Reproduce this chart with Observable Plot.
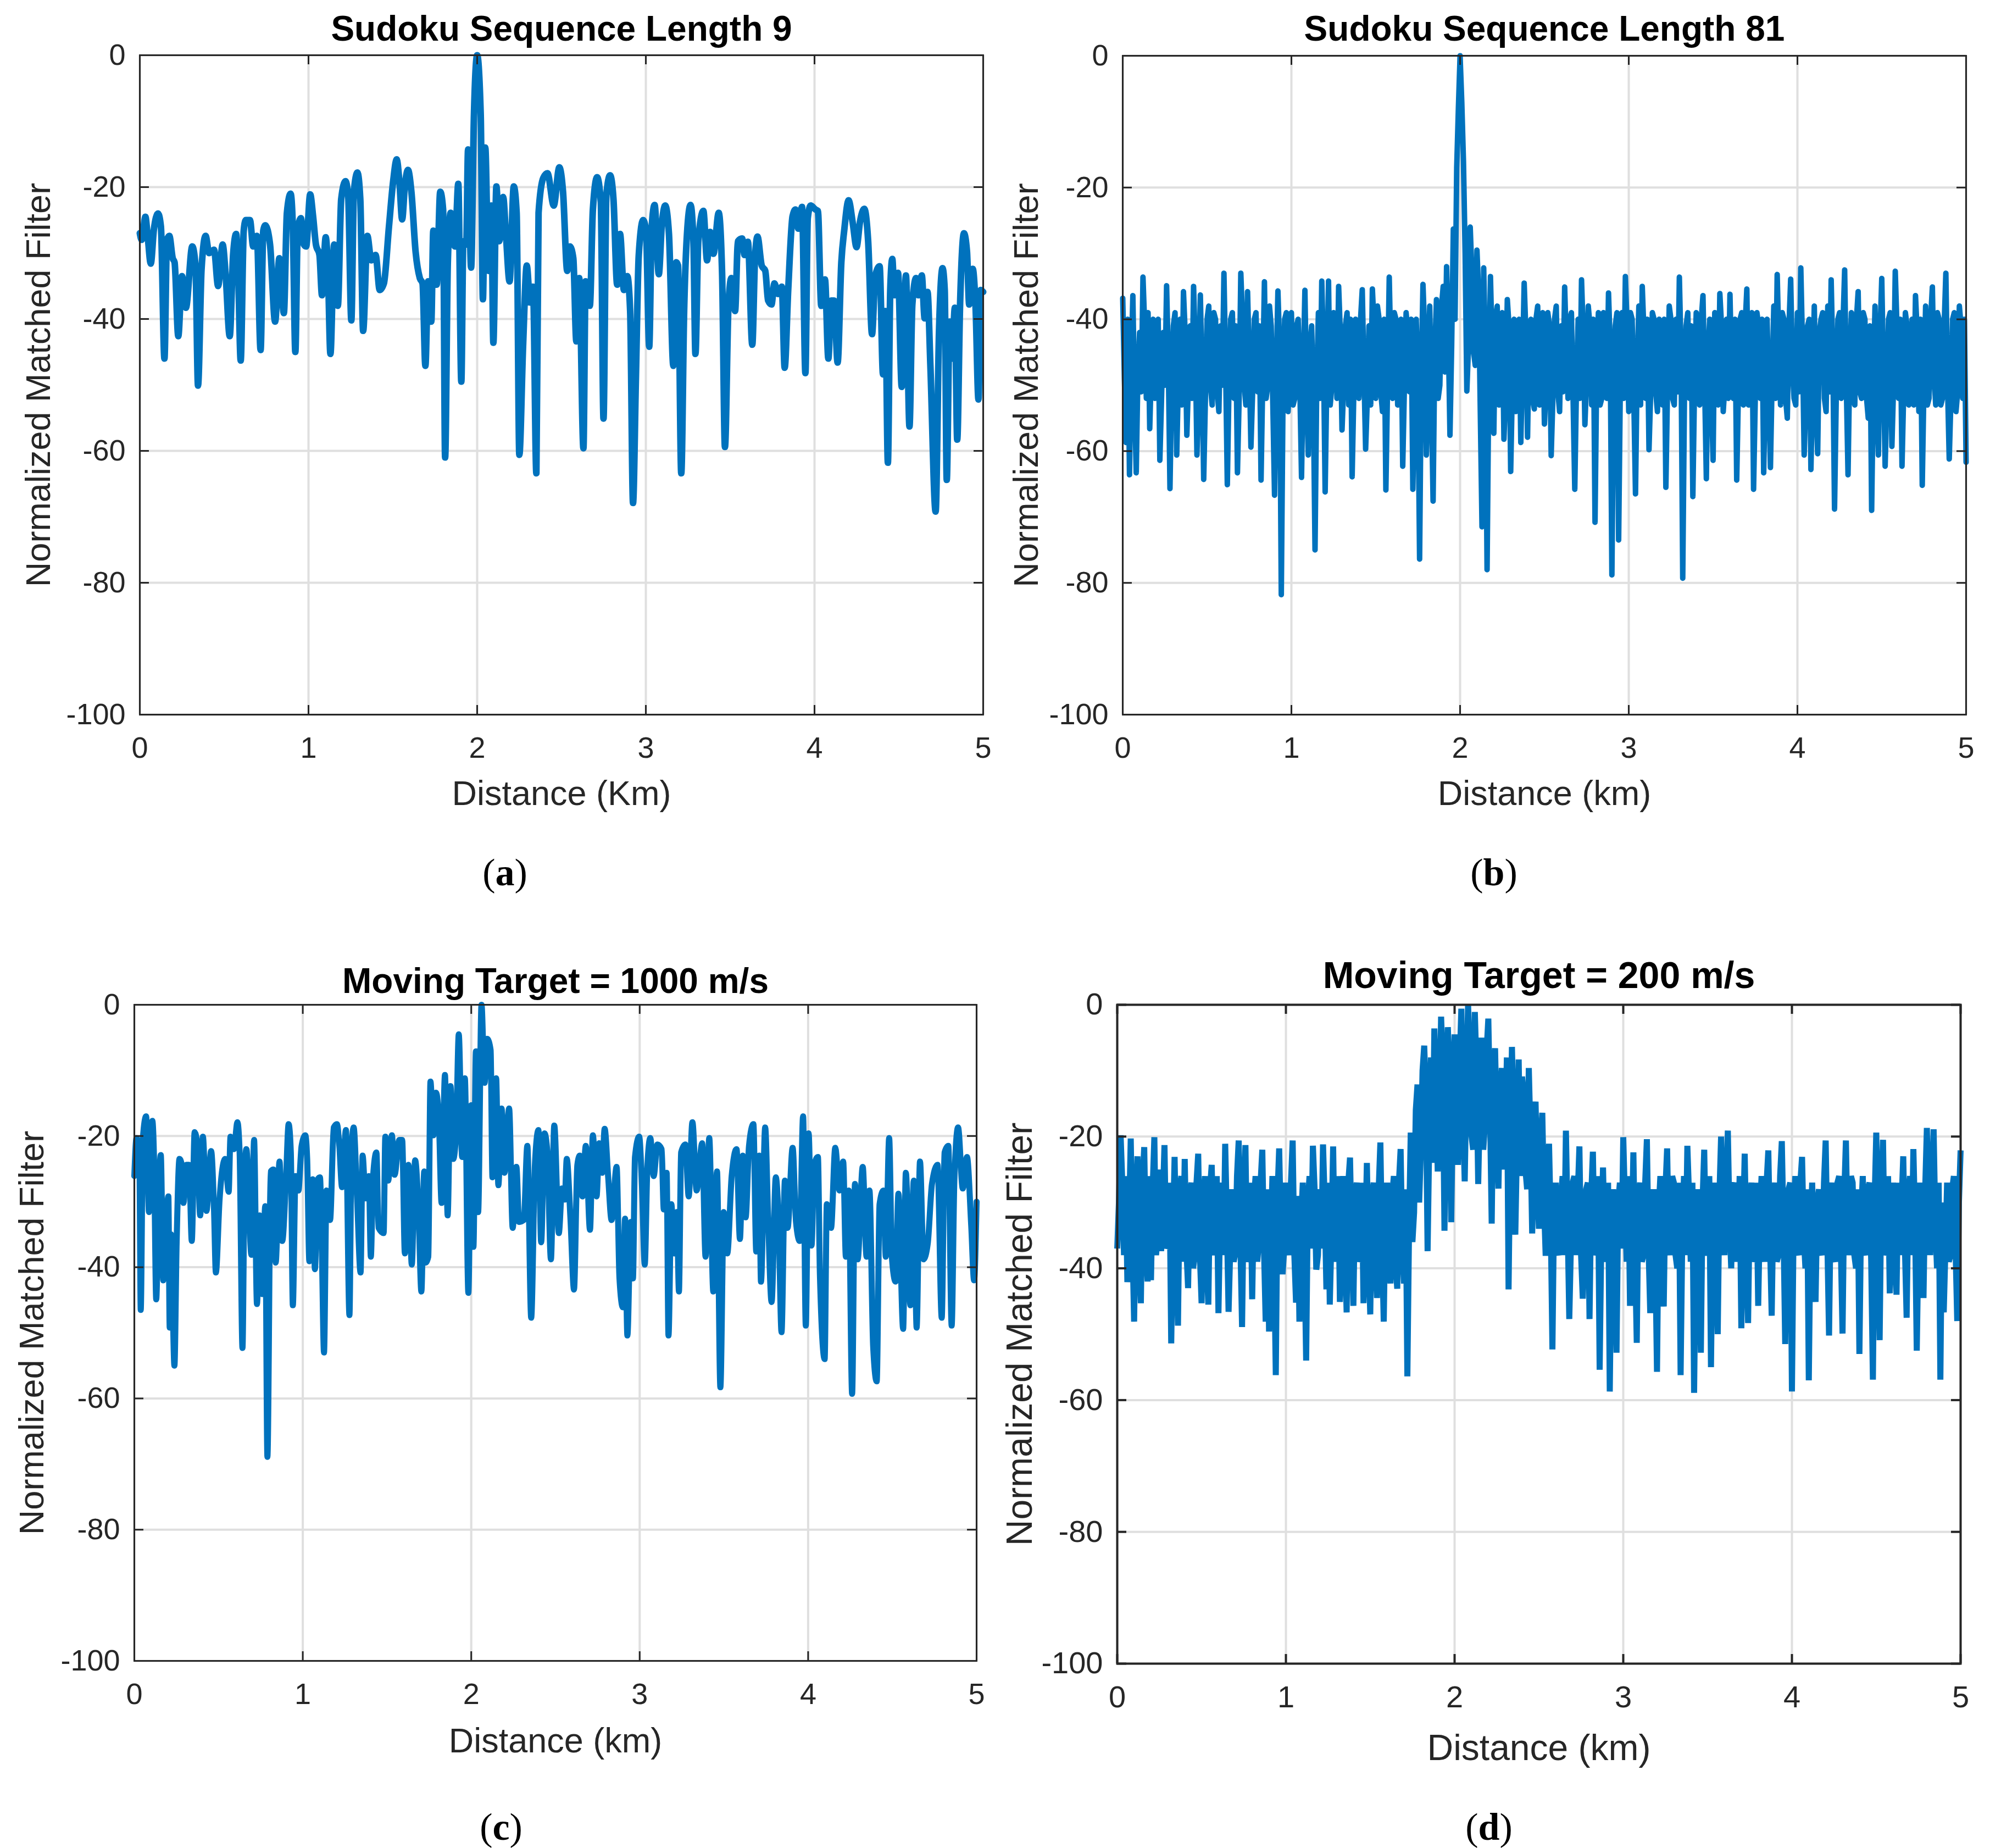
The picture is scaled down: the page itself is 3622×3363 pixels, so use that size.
<!DOCTYPE html>
<html><head><meta charset="utf-8">
<script src="https://cdn.jsdelivr.net/npm/d3@7"></script>
<script src="https://cdn.jsdelivr.net/npm/@observablehq/plot@0.6"></script>
<style>
html,body{margin:0;padding:0;background:#fff;}
#page{position:relative;width:3622px;height:3363px;background:#fff;overflow:hidden;}
.panel{position:absolute;}
.panel svg{overflow:visible;}
.cap{position:absolute;font-family:"Liberation Serif","DejaVu Serif",serif;font-size:70px;color:#000;transform:translate(-50%,-50%);white-space:nowrap;line-height:1;}
.cap b{font-weight:bold;}
</style></head><body><div id="page"></div>
<script>
const xTicks = [0, 1, 2, 3, 4, 5];
const yTicks = [-100, -80, -60, -40, -20, 0];
const yLabel = "Normalized Matched Filter";
const titles = ["Sudoku Sequence Length 9", "Sudoku Sequence Length 81", "Moving Target = 1000 m/s", "Moving Target = 200 m/s"];
const xLabels = ["Distance (Km)", "Distance (km)", "Distance (km)", "Distance (km)"];
const captions = ["a", "b", "c", "d"];

// Panel (a): Sudoku length 9
const aKm = [0,0.011,0.033,0.045,0.065,0.083,0.108,0.125,0.146,0.161,0.175,0.195,0.206,0.228,0.25,0.273,0.311,0.33,0.345,0.366,0.39,0.411,0.44,0.464,0.491,0.508,0.533,0.553,0.571,0.583,0.598,0.616,0.628,0.653,0.672,0.694,0.716,0.732,0.744,0.772,0.802,0.827,0.854,0.872,0.894,0.907,0.922,0.936,0.955,0.972,0.986,1.01,1.027,1.044,1.065,1.08,1.102,1.115,1.13,1.152,1.174,1.194,1.219,1.235,1.254,1.269,1.29,1.307,1.324,1.349,1.372,1.398,1.422,1.447,1.477,1.502,1.523,1.54,1.555,1.572,1.59,1.61,1.635,1.66,1.676,1.693,1.709,1.728,1.74,1.76,1.781,1.798,1.81,1.826,1.843,1.851,1.868,1.888,1.906,1.918,1.935,1.946,1.964,1.981,2.0,2.021,2.034,2.048,2.067,2.084,2.096,2.114,2.131,2.154,2.17,2.192,2.217,2.234,2.25,2.272,2.294,2.314,2.331,2.351,2.364,2.392,2.417,2.454,2.487,2.509,2.534,2.55,
2.57,2.588,2.605,2.63,2.643,2.668,2.686,2.711,2.733,2.749,2.766,2.788,2.808,2.83,2.847,2.87,2.89,2.907,2.924,2.941,2.958,2.984,3.001,3.02,3.035,3.052,3.077,3.094,3.115,3.137,3.163,3.18,3.191,3.21,3.227,3.244,3.265,3.282,3.294,3.311,3.341,3.363,3.381,3.401,3.432,3.452,3.469,3.49,3.507,3.529,3.546,3.571,3.585,3.605,3.631,3.648,3.662,3.687,3.708,3.725,3.745,3.762,3.784,3.806,3.823,3.844,3.87,3.887,3.904,3.926,3.946,3.96,3.977,4.006,4.02,4.04,4.062,4.082,4.099,4.116,4.137,4.159,4.176,4.202,4.227,4.249,4.27,4.295,4.318,4.341,4.36,4.386,4.406,4.42,4.435,4.449,4.461,4.474,4.495,4.517,4.531,4.542,4.563,4.58,4.602,4.616,4.636,4.653,4.67,4.687,4.718,4.738,4.759,4.772,4.784,4.801,4.815,4.832,4.846,4.863,4.886,4.904,4.917,4.938,4.955,4.972,4.985,5.0];
const aDb = [-27,-28,-24.5,-27,-31.6,-26.5,-24,-26,-46,-28,-27.4,-30.8,-31.4,-42.6,-33.5,-38.3,-29,-31.9,-50.1,-32.4,-27.4,-30,-29.5,-35,-28.7,-33,-42.6,-30.3,-27.1,-33,-46.3,-26.6,-25,-25,-29,-27.4,-44.7,-26.6,-25.8,-28.7,-40.4,-30.8,-39.1,-23.9,-21,-26,-45,-26.6,-24.7,-28.7,-29,-21.1,-24.4,-28.7,-30.3,-36.4,-27.6,-32.4,-45.3,-28.7,-38,-21.8,-19.1,-21.2,-40.2,-20.7,-17.8,-21.8,-41.8,-27.4,-31.1,-30.3,-35.6,-34.6,-26,-19.1,-15.8,-19.6,-24.9,-19.6,-17.4,-20.7,-29.8,-33.8,-34.6,-47.1,-34.3,-40.4,-26.6,-34.8,-20.7,-23.4,-61,-31.4,-23.9,-26,-29,-19.5,-49.5,-28.2,-28.7,-14.3,-32.2,-9,0,-9,-37,-14,-32.7,-22.8,-43.6,-19.9,-28.2,-21.5,-27,-34.3,-19.9,-23.9,-60.6,-44.2,-31.9,-37.5,-35.1,-63.4,-23.9,-18.6,-17.9,-22.8,-17,-20.7,-32.7,-29,
-30.8,-43.4,-33.8,-59.6,-34.3,-38,-23.4,-18.5,-22.3,-55.1,-21.2,-18.2,-21.8,-34.8,-27.1,-35.6,-33.5,-38.8,-67.9,-49,-30.3,-25,-26.6,-44.2,-26,-22.7,-33.2,-26,-22.8,-27.1,-47.1,-31.4,-31.9,-63.4,-38.8,-27.1,-22.7,-28.2,-45.3,-28.2,-23.6,-31.1,-26.8,-30.1,-23.9,-33,-59.4,-37.8,-33.8,-38.8,-28.2,-27.8,-30.3,-28.3,-43.9,-30.3,-27.5,-31.9,-32.7,-37.2,-37.8,-34.6,-36.2,-35.1,-47.4,-35.6,-24.4,-23.4,-26.3,-23,-48.2,-24.7,-22.8,-23.4,-23.6,-38,-34,-46,-37.2,-37.2,-46.6,-31.4,-26.6,-22,-25.5,-29.1,-25.2,-23.3,-28.2,-42.3,-33.5,-32,-48.4,-38.8,-61.8,-35.6,-30.9,-36.4,-33,-50.3,-39.9,-33.4,-56.3,-37.8,-33.8,-36.4,-33.4,-39.9,-35.9,-47.1,-69.2,-42,-32.3,-35.6,-64.4,-40.4,-46,-38.3,-58.3,-37.8,-27,-29.8,-37.8,-32.4,-38.3,-52.2,-35.6,-35.9];

// Panel (b): Sudoku length 81, samples every 0.02 km plus the in-between samples
const bStep = 0.02;
const bDb = [-36.8,-58.7,-63.6,-36.4,-63.3,-42,-33.6,-52,-56.6,-40,
-50,-61.4,-42,-34.9,-65.7,-41,-60.6,-40,-35.8,-57.6,
-41,-35,-60.6,-36.3,-64.3,-40,-50,-39,-51,-41,
-33,-65.1,-40,-52,-63.3,-33,-50,-35.8,-59.4,-40,
-51,-64.4,-34.3,-50,-41,-66.7,-35.7,-81.8,-40,-54,
-39,-52,-40,-64,-35.6,-60.6,-41,-75,-39,-34.2,
-66.2,-34.2,-50,-40,-35,-56.8,-41,-53,-63.9,-40,
-52,-35.5,-59.7,-41,-35.4,-52,-40,-54,-65.9,-33.6,
-52,-40,-50,-62.3,-39,-51,-65.8,-40,-76.4,-34.7,
-60.6,-38,-67.6,-37,-50,-35,-32,-57.6,-26.3,-17,
0,-16,-50.9,-26,-45,-29.5,-54.1,-32.2,-78,-33.5,
-57.3,-38,-50,-58.2,-37,-63.1,-40,-52,-58.7,-34.5,
-57.9,-40,-53.6,-38,-50,-55.9,-39,-60.7,-40,-51,
-41,-35.1,-52,-39,-65.8,-40,-34,-56,-38,-53,
-70.8,-39,-52,-40,-36,-78.8,-41,-73.5,-39,-33.5,
-54,-40,-66.5,-38,-35,-52,-59.8,-39,-51,-40,
-53,-65.5,-38,-52,-40,-33.6,-79.3,-41,-52,-66.9,
-39,-53,-36.4,-64.2,-40,-61.4,-41,-36.1,-54,-40,
-36.2,-52,-64.4,-40,-53,-35.4,-50,-65.8,-39,-52,
-63.3,-40,-62.5,-38,-33.2,-53,-40,-55,-33.9,-52,
-39,-32.2,-60.6,-41,-62.8,-38,-60.4,-40,-52,-38,
-34,-68.8,-40,-52,-32.5,-63.6,-39,-53,-35.8,-52,
-40,-55,-69,-38,-60.6,-33.8,-62.3,-40,-59.3,-32.7,
-52,-62.3,-39,-53,-40,-36.4,-54,-65.2,-38,-52,
-35.1,-53,-40,-52,-33,-61.2,-40,-54,-38,-52,-61.7];
const bMid = [-49,-40,-47,-52,-48,-51,-41,-39,-47,-52,
-40,-52,-50,-46,-50,-39,-49,-53,-42,-49,
-52,-44,-51,-48,-52,-38,-53,-40,-54,-50,
-47,-50,-39,-41,-52,-40,-53,-46,-51,-39,
-41,-49,-52,-38,-53,-48,-44,-52,-39,-49,
-53,-41,-50,-48,-51,-44,-52,-50,-52,-45,
-49,-53,-39,-52,-42,-50,-39,-40,-51,-41,
-40,-48,-52,-53,-41,-38,-51,-40,-50,-46,
-39,-53,-40,-50,-42,-40,-52,-50,-48,-42,
-50,-52,-45,-52,-38,-48,-42,-44,-40,-8,
-7,-30,-44,-33,-47,-36,-71.5,-45,-50,-44,
-40,-53,-39,-51,-41,-50,-54,-40,-47,-42,
-42,-52,-40,-53,-39,-50,-41,-52,-38,-54,
-51,-44,-40,-52,-50,-52,-42,-49,-41,-40,
-48,-53,-39,-52,-44,-51,-39,-50,-52,-41,
-39,-52,-47,-53,-42,-40,-51,-40,-54,-41,
-40,-50,-40,-53,-51,-45,-52,-39,-41,-50,
-52,-40,-50,-45,-52,-39,-53,-41,-50,-52,
-48,-40,-51,-39,-41,-53,-39,-52,-41,-40,
-50,-51,-49,-52,-44,-39,-52,-41,-47,-53,
-51,-44,-52,-40,-50,-53,-42,-39,-54,-51,
-46,-52,-39,-41,-50,-47,-52,-40,-51,-39,
-52,-41,-50,-52,-42,-48,-52,-39,-50,-41,
-40,-51,-41,-52,-53,-42,-40,-50,-53,-40,
-49,-39,-53,-41,-50,-52,-39,-51,-41,-40];

// Panel (c): moving target 1000 m/s
const cKm = [0,0.013,0.03,0.038,0.051,0.07,0.087,0.107,0.117,0.13,0.144,0.157,0.172,0.182,0.202,0.21,0.218,0.238,0.251,0.268,0.284,0.292,0.309,0.325,0.341,0.358,0.374,0.391,0.407,0.428,0.456,0.473,0.484,0.506,0.522,0.539,0.56,0.571,0.591,0.612,0.625,0.642,0.654,0.665,0.695,0.711,0.728,0.744,0.76,0.777,0.79,0.81,0.826,0.839,0.862,0.878,0.9,0.916,0.929,0.941,0.957,0.974,0.993,1.015,1.026,1.039,1.059,1.072,1.089,1.102,1.113,1.126,1.141,1.162,1.184,1.203,1.217,1.233,1.256,1.277,1.289,1.302,1.322,1.343,1.355,1.373,1.392,1.404,1.417,1.437,1.45,1.48,1.49,1.507,1.529,1.545,1.573,1.59,1.606,1.627,1.647,1.667,1.688,1.704,1.721,1.729,1.745,1.758,1.775,1.791,1.808,1.824,1.844,1.86,1.877,1.893,1.91,1.926,1.946,1.962,1.983,2.0,2.013,2.028,2.041,2.061,2.079,2.095,2.115,2.126,2.148,2.161,2.18,2.197,2.225,2.246,2.268,2.284,2.312,2.333,2.356,2.378,2.399,2.415,2.435,2.452,2.473,2.493,2.52,
2.539,2.555,2.567,2.589,2.61,2.63,2.644,2.66,2.68,2.705,2.722,2.744,2.76,2.777,2.792,2.813,2.833,2.863,2.88,2.9,2.913,2.927,2.947,2.96,2.972,2.997,3.013,3.03,3.046,3.063,3.083,3.105,3.13,3.143,3.16,3.171,3.188,3.204,3.221,3.233,3.246,3.271,3.291,3.313,3.338,3.371,3.391,3.413,3.437,3.459,3.479,3.499,3.52,3.546,3.575,3.595,3.612,3.629,3.649,3.675,3.692,3.709,3.72,3.745,3.762,3.783,3.808,3.825,3.842,3.862,3.878,3.908,3.928,3.95,3.97,3.986,4.003,4.02,4.036,4.058,4.07,4.098,4.111,4.136,4.161,4.186,4.208,4.224,4.241,4.261,4.278,4.294,4.324,4.347,4.364,4.386,4.407,4.424,4.447,4.461,4.481,4.497,4.519,4.536,4.564,4.58,4.607,4.627,4.644,4.664,4.685,4.71,4.735,4.768,4.793,4.81,4.832,4.852,4.868,4.89,4.918,4.943,4.968,4.985,5.0];
const cDb = [-26.1,-20.3,-23.5,-46.5,-20.3,-17,-31.6,-17.7,-23.5,-44.9,-29.2,-22.9,-42,-37.9,-29.2,-49.2,-35,-55,-36.4,-23.5,-24.7,-30.2,-24.4,-24.4,-36,-19.4,-21.5,-32.1,-20.1,-31.4,-22.3,-31.2,-40.8,-29.7,-25.1,-23.5,-28.5,-20.1,-22,-17.9,-22.5,-52.3,-27.3,-22,-38.1,-20.6,-45.6,-32.1,-44.1,-30.7,-68.9,-25.4,-25.1,-39.3,-23.9,-36,-26.8,-18.2,-22.5,-45.8,-26.1,-28.3,-21.5,-19.9,-23.5,-39.1,-26.6,-40.3,-26.6,-26.3,-36.9,-53,-28.3,-32.8,-18.7,-18.2,-21.5,-27.8,-19.1,-47.3,-22.5,-18.7,-29.2,-40.8,-23,-29.5,-26.1,-38.4,-26.3,-22.5,-34,-34.8,-20.1,-26.8,-19.9,-25.9,-20.6,-20.6,-37.9,-24.4,-39.6,-23.7,-32.1,-43.7,-25.4,-39.3,-38.4,-11.7,-19.9,-13.4,-17.7,-30.2,-10.7,-32.1,-12.4,-23.5,-19.6,-4.5,-23.2,-11.2,-43.9,-15.3,-36.9,-7.1,-31.6,0,-11.9,-5.2,-6.9,-26.3,-11.2,-27.5,-15.8,-25.6,-15.8,-34,-24.7,-33.1,-32.8,-21.5,-47.7,-24.4,-19.1,-36.2,-19.6,-22.5,-38.8,-18.4,-34.8,
-28,-29.7,-23.5,-32.6,-43.4,-24.4,-23,-29.2,-21.5,-34.3,-19.9,-29.2,-21.1,-25.6,-18.9,-26.3,-32.8,-24.7,-41.7,-46.1,-32.6,-50.4,-33.1,-41.7,-23.2,-20.1,-27.3,-39.6,-24.4,-20.3,-26.1,-21.3,-22,-31.2,-25.6,-50.4,-30.4,-37.9,-31.6,-43.7,-22.5,-21.3,-29.2,-17.9,-28.3,-21.1,-38.4,-20.3,-43.7,-25.4,-58.3,-31.6,-37.9,-26.1,-22,-35.7,-23,-32.4,-21.5,-18.2,-37.6,-23,-42.2,-18.7,-32.1,-45.3,-26.3,-33.1,-49.9,-26.8,-34,-21.8,-33.1,-36,-17,-48.9,-19.6,-36.7,-24.4,-23.2,-41.3,-54,-30.4,-34,-21.8,-28.3,-23.9,-38.4,-28.3,-59.3,-27.3,-38.8,-24.7,-38.4,-28.3,-52.1,-57.4,-30.4,-28.3,-38.4,-20.3,-38.4,-42.2,-28.8,-49.4,-25.6,-45.8,-26.8,-49.2,-23.9,-38.8,-36.4,-27.3,-24.4,-47.7,-22.5,-21.5,-48.9,-26.8,-18.7,-28,-23.2,-33.6,-42,-30];

// Panel (d): moving target 200 m/s, samples every 0.02 km plus the in-between samples
const dStep = 0.02;
const dDb = [-37,-19.8,-38,-42.1,-20.3,-48.1,-23,-45.3,-21.6,-42,
-41.8,-20.1,-35,-37.4,-21.3,-36,-51.4,-23.1,-48.7,-26,
-23.4,-43,-27,-38,-22.6,-45.3,-26,-45.5,-24.3,-38,
-46.8,-27,-21.1,-46.6,-28,-37.7,-20.6,-48.9,-21.3,-38,
-44.7,-26,-36,-22,-48.1,-49.6,-26,-56.2,-21.8,-40.9,
-27,-38,-20.6,-45.2,-48.1,-27,-54,-26,-21.4,-40.2,
-28,-21.2,-43.2,-45.5,-21.5,-37,-45.1,-26,-46.7,-23.2,
-45.7,-27,-38,-45.3,-24,-47,-27,-44.5,-20.9,-48.1,
-27,-42.3,-26,-43.1,-21.9,-42.3,-56.4,-19.4,-31.5,-12.1,
-22,-6.2,-37.4,-8,-3.6,-25.3,-1.8,-34.3,-3.4,-33,
-4.5,-24.3,-0.6,-26.8,0,-19.8,-1.1,-27.2,-5,-18,
-2.1,-33.2,-6.6,-27.9,-9.6,-20,-43.2,-6.4,-34.9,-8.3,
-10.9,-25,-9.6,-34.7,-14.7,-34,-16.4,-38.1,-21.1,-52.3,
-27,-38,-26,-19.1,-47.7,-27,-38,-21.5,-44.6,-28,
-47.7,-22.3,-37,-55.4,-24.7,-39,-58.7,-28,-52.8,-27,
-20.1,-39,-45.7,-22.4,-51.3,-27,-38,-20.4,-46.8,-28,
-55.7,-26,-45.8,-21.8,-38,-27,-40,-56.2,-26,-21.4,
-39,-58.9,-28,-52.8,-22,-38,-55,-27,-50,-20,
-38,-19.1,-40,-27,-37,-49.1,-22.6,-48.3,-27,-38,
-45.7,-26,-39,-22.1,-47.2,-27,-38,-20.7,-51.5,-28,
-58.7,-26,-38,-23.1,-40,-57,-27,-45.1,-28,-38,
-20.6,-50.2,-27,-39,-26,-49.9,-20.6,-38,-27,-40,
-53,-26,-38,-27,-56.9,-19.4,-50.9,-20.5,-37,-43.8,
-27,-44,-38,-23,-47.5,-26,-21.9,-52.5,-27,-44.5,
-18.7,-38,-18.9,-40,-56.9,-46.7,-27,-38,-26,-48,-22.1];
const dMid = [-30,-27,-26,-33,-36,-31,-38,-27,-37,-26,
-28,-38,-25,-30,-37,-27,-35,-38,-28,-39,
-37,-29,-40,-27,-38,-30,-39,-28,-36,-26,
-32,-38,-33,-37,-39,-26,-36,-29,-39,-27,
-30,-39,-27,-37,-28,-36,-38,-29,-34,-37,
-36,-27,-38,-29,-33,-38,-30,-37,-28,-38,
-37,-30,-27,-35,-39,-26,-38,-37,-27,-36,
-29,-39,-27,-36,-38,-29,-39,-28,-37,-31,
-38,-29,-39,-27,-37,-28,-34,-36,-16,-30,
-10,-14,-20,-24,-12,-18,-9,-16,-11,-15,
-13,-9,-17,-12,-8,-22,-10,-15,-22,-7,
-16,-12,-19,-14,-25,-8,-22,-18,-21,-26,
-14,-28,-20,-24,-27,-21,-30,-26,-33,-30,
-37,-30,-38,-33,-36,-26,-29,-38,-36,-27,
-29,-38,-26,-35,-37,-27,-36,-39,-30,-37,
-30,-26,-36,-38,-29,-39,-27,-37,-33,-38,
-31,-37,-28,-36,-26,-38,-27,-35,-38,-29,
-27,-36,-38,-30,-37,-26,-34,-38,-29,-35,
-28,-33,-28,-39,-26,-34,-37,-30,-39,-27,
-32,-37,-27,-36,-30,-39,-26,-34,-37,-27,
-33,-37,-27,-35,-28,-34,-39,-30,-37,-27,
-36,-30,-38,-27,-37,-29,-35,-26,-38,-28,
-32,-37,-28,-39,-30,-36,-28,-38,-26,-35,
-38,-27,-30,-37,-29,-38,-33,-36,-38,-28,
-32,-27,-33,-27,-30,-37,-39,-28,-37,-30];

const FONT = '"Liberation Sans", Arial, Helvetica, sans-serif';
const BLUE = "#0072BD";
const AXIS = "#262626";
const GRID = "#dfdfdf";

function sampled(main, mid, step) {
  const out = [];
  main.forEach((v, i) => {
    out.push({km: i * step, db: v});
    if (i < mid.length) out.push({km: i * step + step / 2, db: mid[i]});
  });
  return out;
}

const seriesA = aKm.map((k, i) => ({km: k, db: aDb[i]}));
const seriesB = sampled(bDb, bMid, bStep);
const seriesC = cKm.map((k, i) => ({km: k, db: cDb[i]}));
const seriesD = sampled(dDb, dMid, dStep);

function panel(o) {
  const plotW = o.width - o.ml - o.mr;
  const plotH = o.height - o.mt - o.mb;
  const tl = 17;
  const chart = Plot.plot({
    width: o.width, height: o.height,
    marginLeft: o.ml, marginRight: o.mr, marginTop: o.mt, marginBottom: o.mb,
    x: {domain: [0, 5]},
    y: {domain: [-100, 0]},
    style: {fontFamily: FONT, background: "white", overflow: "visible"},
    marks: [
      Plot.gridX(xTicks, {stroke: GRID, strokeOpacity: 1, strokeWidth: 4}),
      Plot.gridY(yTicks, {stroke: GRID, strokeOpacity: 1, strokeWidth: 4}),
      Plot.line(o.data, {x: "km", y: "db", stroke: BLUE, strokeWidth: o.sw, curve: o.curve, strokeLinejoin: o.join, strokeLinecap: o.cap}),
      Plot.tickX(xTicks, {x: d => d, stroke: AXIS, strokeWidth: o.fw, insetTop: plotH - tl}),
      Plot.tickX(xTicks, {x: d => d, stroke: AXIS, strokeWidth: o.fw, insetBottom: plotH - tl}),
      Plot.tickY(yTicks, {y: d => d, stroke: AXIS, strokeWidth: o.fw, insetRight: plotW - tl}),
      Plot.tickY(yTicks, {y: d => d, stroke: AXIS, strokeWidth: o.fw, insetLeft: plotW - tl}),
      Plot.frame({stroke: AXIS, strokeWidth: o.fw}),
      Plot.axisX(xTicks, {tickSize: 0, tickPadding: 40, fontSize: o.tf, fill: AXIS, label: null, tickFormat: d => String(d)}),
      Plot.axisY(yTicks, {tickSize: 0, tickPadding: 26, fontSize: o.tf, fill: AXIS, label: null, tickFormat: d => String(d)}),
      Plot.text([o.title], {text: d => d, frameAnchor: "top", dy: o.titleDy, fontSize: o.titleF, fontWeight: "bold", fill: "#000", lineAnchor: "middle"}),
      Plot.text([o.xlabel], {text: d => d, frameAnchor: "bottom", dy: o.xlDy, fontSize: o.lf, fill: AXIS, lineAnchor: "middle"}),
      Plot.text([yLabel], {text: d => d, frameAnchor: "left", dx: o.ylX - o.ml, rotate: -90, fontSize: o.lf, fill: AXIS, lineAnchor: "middle", textAnchor: "middle"})
    ]
  });
  const div = document.createElement("div");
  div.className = "panel";
  div.style.left = o.left + "px";
  div.style.top = o.top + "px";
  div.appendChild(chart);
  document.getElementById("page").appendChild(div);
}

panel({data: seriesA, title: titles[0], xlabel: xLabels[0], left: 0, top: 0, width: 1811, height: 1681,
  ml: 254, mr: 22, mt: 100, mb: 381, fw: 3, tf: 54, lf: 63, titleF: 64, titleDy: -47, xlDy: 144, ylX: 70,
  sw: 12, curve: "monotone-x", join: "round", cap: "round"});
panel({data: seriesB, title: titles[1], xlabel: xLabels[1], left: 1811, top: 0, width: 1811, height: 1681,
  ml: 232, mr: 44, mt: 101, mb: 381, fw: 3, tf: 54, lf: 63, titleF: 64, titleDy: -48, xlDy: 144, ylX: 57,
  sw: 10, curve: "linear", join: "round", cap: "round"});
panel({data: seriesC, title: titles[2], xlabel: xLabels[2], left: 0, top: 1681, width: 1811, height: 1682,
  ml: 244, mr: 34, mt: 147, mb: 341, fw: 3, tf: 54, lf: 63, titleF: 64, titleDy: -42, xlDy: 146, ylX: 58,
  sw: 11, curve: "monotone-x", join: "round", cap: "round"});
panel({data: seriesD, title: titles[3], xlabel: xLabels[3], left: 1811, top: 1681, width: 1811, height: 1682,
  ml: 222, mr: 54, mt: 147, mb: 336, fw: 4, tf: 56, lf: 66, titleF: 68, titleDy: -52, xlDy: 154, ylX: 45,
  sw: 11, curve: "linear", join: "bevel", cap: "butt"});

const capPos = [[919, 1588], [2719, 1588], [912, 3325], [2710, 3325]];
captions.forEach((c, i) => {
  const d = document.createElement("div");
  d.className = "cap";
  d.style.left = capPos[i][0] + "px";
  d.style.top = capPos[i][1] + "px";
  d.innerHTML = "(<b>" + c + "</b>)";
  document.getElementById("page").appendChild(d);
});
</script>
</body></html>
